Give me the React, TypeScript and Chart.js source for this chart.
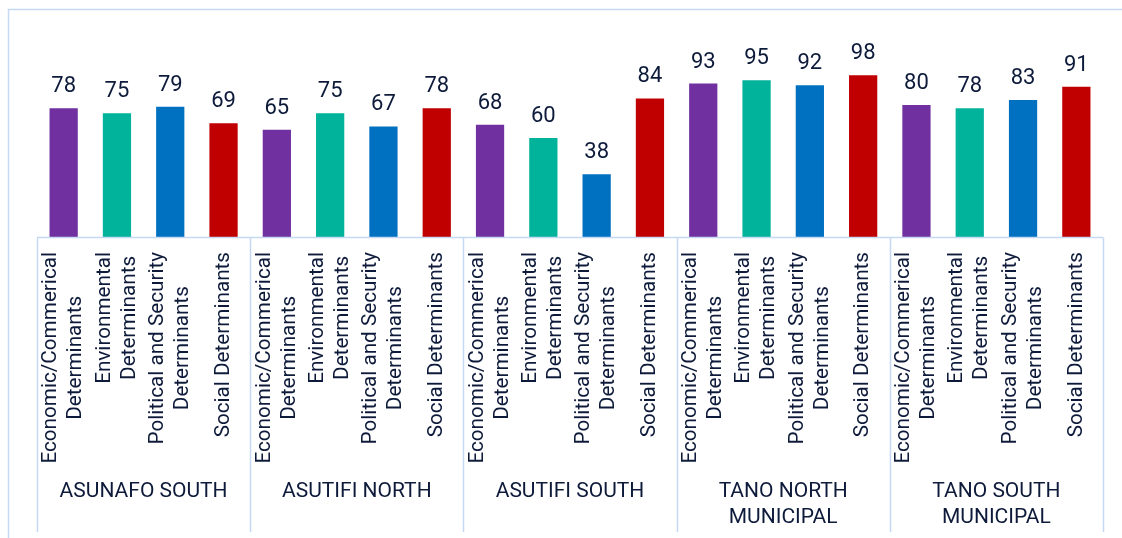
import React, { useEffect, useRef } from "react";
import { Chart, registerables } from "chart.js";

Chart.register(...registerables);

const districts: string[][] = [
  ["ASUNAFO SOUTH"],
  ["ASUTIFI NORTH"],
  ["ASUTIFI SOUTH"],
  ["TANO NORTH", "MUNICIPAL"],
  ["TANO SOUTH", "MUNICIPAL"],
];
const determinants: string[][] = [
  ["Economic/Commerical", "Determinants"],
  ["Environmental", "Determinants"],
  ["Political and Security", "Determinants"],
  ["Social Determinants"],
];
const asunafoSouth = [78, 75, 79, 69];
const asutifiNorth = [65, 75, 67, 78];
const asutifiSouth = [68, 60, 38, 84];
const tanoNorthMunicipal = [93, 95, 92, 98];
const tanoSouthMunicipal = [80, 78, 83, 91];
const determinantColors = ["#7030A0", "#00B39A", "#0070C0", "#C00000"];

const W = 1122;
const H = 538;
const TEXT = "#0D1A3A";
const LINE = "#C6D9F4";

export default function App() {
  const ref = useRef<HTMLCanvasElement | null>(null);

  useEffect(() => {
    const canvas = ref.current;
    if (!canvas) return;
    const groupValues = [asunafoSouth, asutifiNorth, asutifiSouth, tanoNorthMunicipal, tanoSouthMunicipal];
    const labels: string[][] = [];
    const values: number[] = [];
    const colors: string[] = [];
    groupValues.forEach((vals) => {
      vals.forEach((v, i) => {
        labels.push(determinants[i]);
        values.push(v);
        colors.push(determinantColors[i]);
      });
    });

    const overlay = {
      id: "overlay",
      afterDatasetsDraw(chart: any) {
        const ctx = chart.ctx as CanvasRenderingContext2D;
        const meta = chart.getDatasetMeta(0);
        ctx.save();
        ctx.fillStyle = TEXT;
        ctx.font = "22px Roboto";
        ctx.textAlign = "center";
        ctx.textBaseline = "alphabetic";
        meta.data.forEach((bar: any, i: number) => {
          ctx.fillText(String(values[i]), bar.x, bar.y - 16);
        });
        ctx.restore();
      },
      afterDraw(chart: any) {
        const ctx = chart.ctx as CanvasRenderingContext2D;
        const area = chart.chartArea;
        const xs = chart.scales.x;
        ctx.save();
        // outer frame
        ctx.strokeStyle = LINE;
        ctx.lineWidth = 1.5;
        ctx.beginPath();
        ctx.moveTo(8.5, H);
        ctx.lineTo(8.5, 9.5);
        ctx.lineTo(W, 9.5);
        ctx.stroke();
        // axis line
        const base = area.bottom + 0.5;
        ctx.beginPath();
        ctx.moveTo(area.left, base);
        ctx.lineTo(area.right, base);
        ctx.stroke();
        // group separators
        const gw = (area.right - area.left) / districts.length;
        for (let g = 0; g <= districts.length; g++) {
          const x = Math.round(area.left + g * gw) + 0.5;
          ctx.beginPath();
          ctx.moveTo(x, base);
          ctx.lineTo(x, 532);
          ctx.stroke();
        }
        // category labels (rotated)
        ctx.fillStyle = TEXT;
        ctx.font = "20.7px Roboto";
        ctx.textBaseline = "middle";
        ctx.textAlign = "center";
        const lineGap = 25;
        labels.forEach((lines, i) => {
          const cx = xs.getPixelForValue(i);
          const maxW = Math.max(...lines.map((l) => ctx.measureText(l).width));
          ctx.save();
          ctx.translate(cx, 252);
          ctx.rotate(-Math.PI / 2);
          lines.forEach((l, j) => {
            const off = (j - (lines.length - 1) / 2) * lineGap;
            ctx.fillText(l, -maxW / 2, off);
          });
          ctx.restore();
        });
        // group labels
        ctx.font = "21px Roboto";
        districts.forEach((lines, g) => {
          const cx = area.left + (g + 0.5) * gw;
          lines.forEach((l, j) => {
            ctx.fillText(l, cx, 492 + j * 26);
          });
        });
        ctx.restore();
      },
    };

    const chart = new Chart(canvas, {
      type: "bar",
      data: {
        labels,
        datasets: [
          {
            data: values,
            backgroundColor: colors,
            borderWidth: 0,
            categoryPercentage: 1,
            barPercentage: 0.53,
          },
        ],
      },
      options: {
        responsive: false,
        animation: false,
        layout: { padding: { left: 37, right: 19, top: 39, bottom: H - 237 } },
        plugins: { legend: { display: false }, tooltip: { enabled: false }, title: { display: false } },
        scales: {
          x: { display: false, offset: true },
          y: { display: false, min: 0, max: 120 },
        },
      },
      plugins: [overlay],
    });
    return () => chart.destroy();
  }, []);

  return (
    <div style={{ position: "fixed", left: 0, top: 0, width: W, height: H, background: "#fff" }}>
      <canvas ref={ref} width={W} height={H} style={{ display: "block", width: W, height: H }} />
    </div>
  );
}
